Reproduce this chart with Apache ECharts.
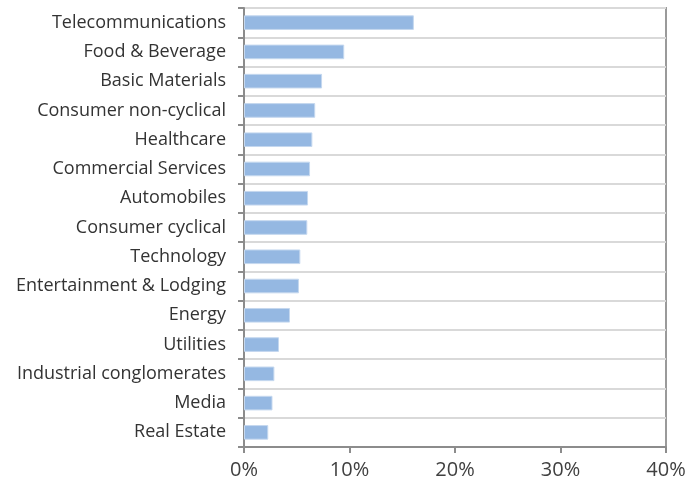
<!DOCTYPE html>
<html><head><meta charset="utf-8">
<script src="https://cdn.jsdelivr.net/npm/echarts@6/dist/echarts.min.js"></script>
<style>html,body{margin:0;padding:0;background:#fff}#c{width:692px;height:485px}</style>
</head><body><div id="c"></div>
<script>
const categories = ["Telecommunications","Food & Beverage","Basic Materials","Consumer non-cyclical","Healthcare","Commercial Services","Automobiles","Consumer cyclical","Technology","Entertainment & Lodging","Energy","Utilities","Industrial conglomerates","Media","Real Estate"];
const values = [16.1, 9.5, 7.4, 6.75, 6.48, 6.26, 6.07, 6.0, 5.34, 5.21, 4.36, 3.32, 2.88, 2.7, 2.3];
const xTicks = [0, 10, 20, 30, 40];

const chart = echarts.init(document.getElementById('c'));
chart.setOption({
  animation: false,
  grid: {left: 244, right: 26, top: 8, bottom: 38, show: true, borderColor: '#9a9a9a', borderWidth: 2, backgroundColor: 'transparent'},
  xAxis: {
    type: 'value', min: xTicks[0], max: xTicks[xTicks.length-1], interval: 10,
    axisLine: {show: true, lineStyle: {color: '#8c8c8c', width: 2}},
    axisTick: {show: true, length: 6, lineStyle: {color: '#8c8c8c', width: 2}},
    splitLine: {show: false},
    axisLabel: {formatter: v => v + '%', fontFamily: 'Open Sans', fontSize: 20, color: '#404040', margin: 13}
  },
  yAxis: {
    type: 'category', data: categories, inverse: true,
    axisLine: {show: true, lineStyle: {color: '#8c8c8c', width: 2}},
    axisTick: {show: true, length: 6, lineStyle: {color: '#8c8c8c', width: 2}},
    splitLine: {show: true, lineStyle: {color: '#d9d9d9', width: 2}},
    axisLabel: {fontFamily: 'Open Sans', fontSize: 18, color: '#333333', margin: 18}
  },
  series: [{
    type: 'bar', data: values, barCategoryGap: '50%',
    itemStyle: {color: '#95b8e2', borderColor: '#c5d8ef', borderWidth: 1}
  }]
});
</script></body></html>
